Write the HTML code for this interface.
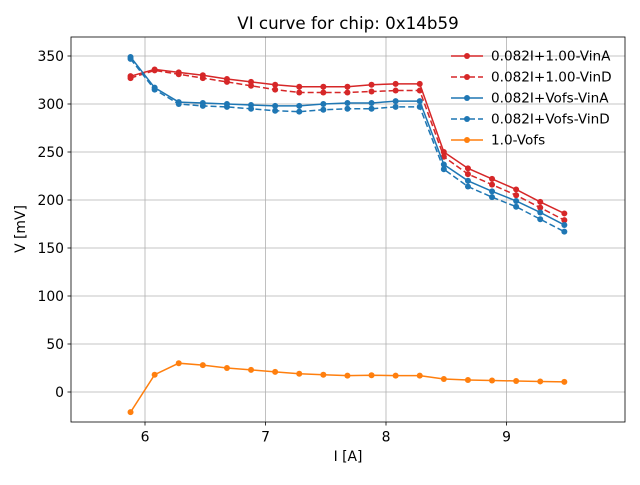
<!DOCTYPE html>
<html><head><meta charset="utf-8"><style>body{margin:0;background:#fff}svg text{font-family:"DejaVu Sans","Liberation Sans",sans-serif}</style></head>
<body>
<svg id="chart" width="640" height="480" xmlns="http://www.w3.org/2000/svg"></svg>
<script>
const xs=[5.88,6.08,6.28,6.48,6.68,6.88,7.08,7.28,7.48,7.68,7.88,8.08,8.28,8.48,8.68,8.88,9.08,9.28,9.48];
const vinA=[329,336,333,330,326,323,320,318,318,318,320,321,321,250,233,222,211,198,186];
const vinD=[327,335,331,327,323,319,315,312,312,312,313,314,314,245,227,216,205,192,179];
const vofsA=[349,317,302,301,300,299,298,298,300,301,301,303,303,237,220,209,199,187,174];
const vofsD=[347,315,300,298,297,295,293,292,294,295,295,297,297,232,214,203,193,180,167];
const ofs=[-21,18,30,28,25,23,21,19,18,17,17.5,17,17,13.5,12.5,12,11.5,11,10.5];
const xTicks=[6,7,8,9];
const yTicks=[0,50,100,150,200,250,300,350];
const seriesNames=["0.082I+1.00-VinA","0.082I+1.00-VinD","0.082I+Vofs-VinA","0.082I+Vofs-VinD","1.0-Vofs"];

const L=71,R=625,T=37,B=422;
const X=v=>145+(v-6)*120.5;
const Y=v=>392-v*0.96;
const svg=document.getElementById('chart');
const NS="http://www.w3.org/2000/svg";
function mk(t,a,p){const e=document.createElementNS(NS,t);for(const k in a)e.setAttribute(k,a[k]);(p||svg).appendChild(e);return e;}

const ti=mk('text',{x:348,y:29,'text-anchor':'middle','font-size':16.7,fill:'#000'});ti.textContent='VI curve for chip: 0x14b59';

xTicks.forEach(t=>{const g=mk('line',{x1:X(t),x2:X(t),y1:T,y2:B,stroke:'#b0b0b0','stroke-width':0.8});

mk('line',{x1:X(t),x2:X(t),y1:B,y2:B+3.5,stroke:'#000','stroke-width':0.8});
const tx=mk('text',{x:X(t),y:B+19.5,'text-anchor':'middle','font-size':13.9});tx.textContent=t;
});
yTicks.forEach(t=>{const g=mk('line',{x1:L,x2:R,y1:Y(t),y2:Y(t),stroke:'#b0b0b0','stroke-width':0.8});

mk('line',{x1:L-3.5,x2:L,y1:Y(t),y2:Y(t),stroke:'#000','stroke-width':0.8});
const tx=mk('text',{x:L-7,y:Y(t)+5,'text-anchor':'end','font-size':13.9});tx.textContent=t;
});

const series=[[vinA,'#d62728',''],[vinD,'#d62728','6,3'],[vofsA,'#1f77b4',''],[vofsD,'#1f77b4','6,3'],[ofs,'#ff7f0e','']];
series.forEach((s,i)=>{
 const g=mk('g',{});
 
 
 const pts=xs.map((x,j)=>X(x)+','+Y(s[0][j])).join(' ');
 mk('polyline',{points:pts,fill:'none',stroke:s[1],'stroke-width':1.5,'stroke-dasharray':s[2]},g);
 xs.forEach((x,j)=>{const c=mk('circle',{cx:X(x),cy:Y(s[0][j]),r:3,fill:s[1]},g);
 });
});
mk('rect',{x:L,y:T,width:R-L,height:B-T,fill:'none',stroke:'#000','stroke-width':0.8});
const xl=mk('text',{x:348,y:461,'text-anchor':'middle','font-size':13.9});xl.textContent='I [A]';

const yl=mk('text',{x:25,y:229,'text-anchor':'middle','font-size':13.9,transform:'rotate(-90 25 229)'});yl.textContent='V [mV]';


const lg=mk('g',{});


seriesNames.forEach((n,i)=>{const y=56+i*21;
 const e=mk('g',{},lg);
 
 
 mk('line',{x1:451,x2:483,y1:y,y2:y,stroke:series[i][1],'stroke-width':1.5,'stroke-dasharray':series[i][2]},e);
 mk('circle',{cx:467,cy:y,r:3,fill:series[i][1]},e);
 mk('text',{x:491,y:y+4.5,'font-size':13.6},e).textContent=n;});
</script>
</body></html>
